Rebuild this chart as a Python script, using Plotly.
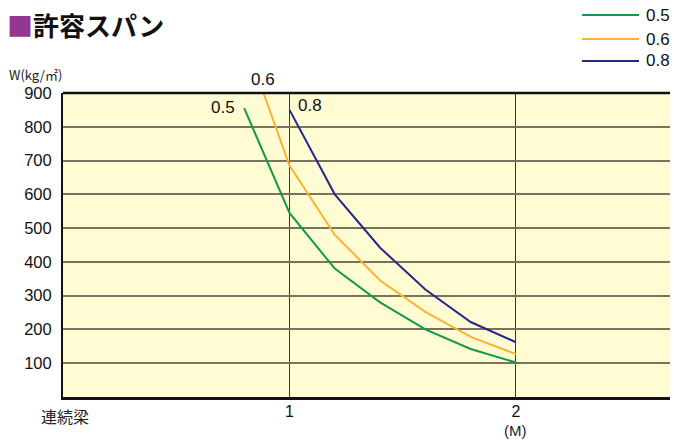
import plotly.graph_objects as go

# ---- data ----
series_names = ["0.5", "0.6", "0.8"]
span_05 = [0.8, 1.0, 1.2, 1.4, 1.6, 1.8, 2.0]
load_05 = [855, 545, 380, 280, 200, 142, 102]
span_06 = [0.8, 1.0, 1.2, 1.4, 1.6, 1.8, 2.0]
load_06 = [1060, 685, 480, 345, 252, 178, 127]
span_08 = [1.0, 1.2, 1.4, 1.6, 1.8, 2.0]
load_08 = [850, 600, 442, 318, 222, 162]
y_ticks = [100, 200, 300, 400, 500, 600, 700, 800, 900]
x_ticks = [1, 2]
x_tick_text = ["1", "2"]
x_unit = "(M)"

colors = ["#12994a", "#fbb330", "#23298a"]
NUM_FONT = "Liberation Sans, Arial, sans-serif"
JP_FONT = "Noto Sans CJK JP, sans-serif"

W, H = 674, 442
L, R, T, B = 63, 4, 93, 45
pw, ph = W - L - R, H - T - B


def px_x(px):
    return (px - L) / pw


def px_y(py):
    return (H - B - py) / ph


fig = go.Figure()
for name, xs, ys, c in zip(series_names, [span_05, span_06, span_08],
                           [load_05, load_06, load_08], colors):
    fig.add_trace(go.Scatter(x=xs, y=ys, mode="lines", name=name,
                             line=dict(color=c, width=2), showlegend=False,
                             hoverinfo="skip"))

fig.update_layout(
    width=W, height=H,
    margin=dict(l=L, r=R, t=T, b=B, autoexpand=False),
    paper_bgcolor="white",
    plot_bgcolor="#fffbd2",
    font=dict(family=NUM_FONT, color="#111", size=15),
    xaxis=dict(range=[0, 2.68], tickvals=x_ticks, ticktext=x_tick_text,
               showgrid=True, gridcolor="#3c3a30", gridwidth=1,
               showline=True, linecolor="#111", linewidth=2.5,
               zeroline=False, ticks="", tickfont=dict(size=16),
               ticklabelstandoff=-2, fixedrange=True, automargin=False),
    yaxis=dict(range=[0, 900], tickvals=y_ticks,
               showgrid=True, gridcolor="#77735c", gridwidth=2,
               showline=True, linecolor="#111", linewidth=2,
               zeroline=False, ticks="", tickfont=dict(size=16.5),
               ticklabelstandoff=6, fixedrange=True, automargin=False),
    showlegend=False,
)

# top border of plot frame
fig.add_shape(type="line", xref="x domain", yref="y domain",
              x0=0, x1=1, y0=1, y1=1, line=dict(color="#111", width=2.5))

# x unit under the "2" tick
fig.add_annotation(xref="x", yref="paper", x=x_ticks[-1], y=px_y(430),
                   text=x_unit, showarrow=False, xanchor="center", yanchor="middle",
                   font=dict(size=15, family=NUM_FONT, color="#222"))

# manual legend
legend_y = [15, 39, 61]
for name, c, py in zip(series_names, colors, legend_y):
    fig.add_shape(type="line", xref="paper", yref="paper",
                  x0=px_x(582), x1=px_x(639), y0=px_y(py), y1=px_y(py),
                  line=dict(color=c, width=2))
    fig.add_annotation(xref="paper", yref="paper", x=px_x(644), y=px_y(py),
                       text=name, showarrow=False, xanchor="left",
                       yanchor="middle", font=dict(size=17, family=NUM_FONT))

# curve labels
fig.add_annotation(xref="paper", yref="paper", x=px_x(237), y=px_y(107),
                   text="0.5", showarrow=False, xanchor="right", yanchor="middle",
                   font=dict(size=17, family=NUM_FONT))
fig.add_annotation(xref="paper", yref="paper", x=px_x(263), y=px_y(80),
                   text="0.6", showarrow=False, xanchor="center", yanchor="middle",
                   font=dict(size=17, family=NUM_FONT))
fig.add_annotation(xref="paper", yref="paper", x=px_x(296), y=px_y(105),
                   text="0.8", showarrow=False, xanchor="left", yanchor="middle",
                   font=dict(size=17, family=NUM_FONT))

# title
fig.add_annotation(xref="paper", yref="paper", x=px_x(5), y=px_y(24),
                   text="<span style='color:#93388f'>■</span><b>許容スパン</b>",
                   showarrow=False, xanchor="left", yanchor="middle",
                   font=dict(size=26, family=JP_FONT, color="#111"))

# y axis unit
fig.add_annotation(xref="paper", yref="paper", x=px_x(7), y=px_y(74),
                   text="W(kg/㎡)", showarrow=False, xanchor="left", yanchor="middle",
                   font=dict(size=13, family=JP_FONT, color="#222"))

# bottom-left label
fig.add_annotation(xref="paper", yref="paper", x=px_x(39), y=px_y(416),
                   text="連続梁", showarrow=False, xanchor="left", yanchor="middle",
                   font=dict(size=16, family=JP_FONT, color="#222"))

fig.write_html("out.html",
               config={"displayModeBar": False, "staticPlot": True},
               post_script="document.body.style.margin='0';"
                           "document.body.style.overflow='hidden';")
